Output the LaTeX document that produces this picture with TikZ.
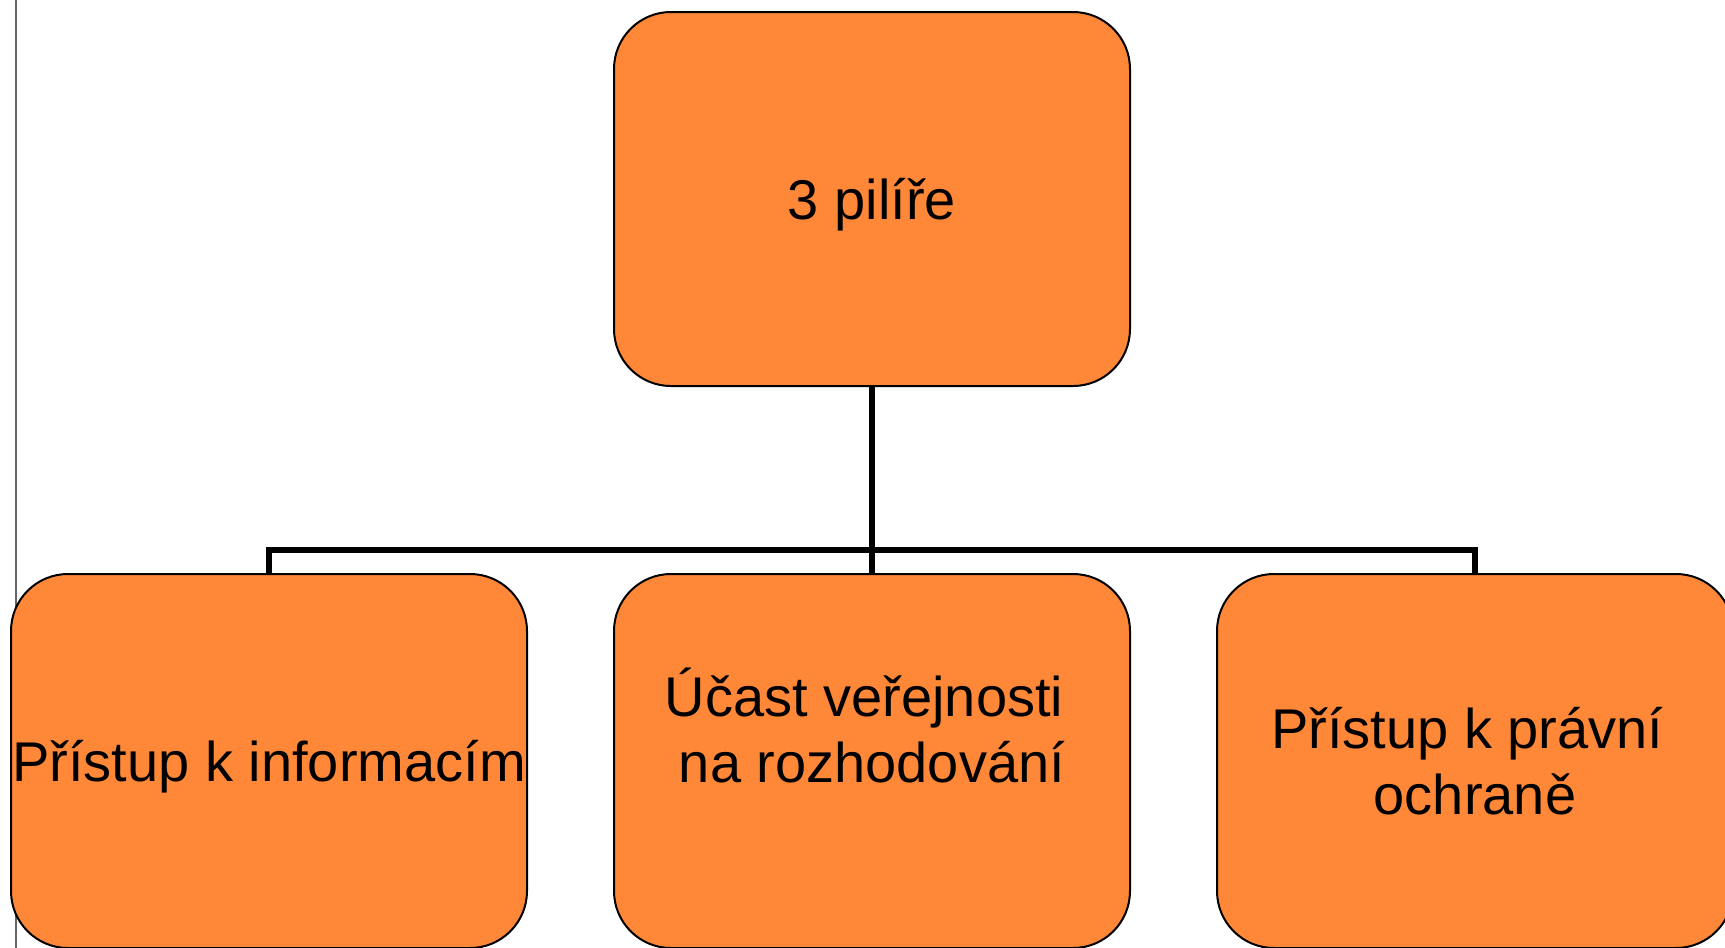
\documentclass[tikz,border=0pt]{standalone}
\usepackage{fontspec}
\setmainfont{Liberation Sans}
\usetikzlibrary{positioning}

\definecolor{pillarorange}{HTML}{FF8838}

\tikzset{
  pillar/.style={draw=black, line width=1pt, fill=pillarorange,
    rounded corners=28.5pt, minimum width=258pt, minimum height=187pt,
    inner sep=0pt, outer sep=0pt, align=center,
    font=\fontsize{28}{33}\selectfont},
  oneline/.style={text depth=0pt},
  link/.style={line width=2.6pt, black},
  edgeline/.style={line width=1pt, black!60}
}

\begin{document}
\begin{tikzpicture}[x=0.5pt, y=-0.5pt]
        \useasboundingbox (0,0) rectangle (1725,948);
        \coordinate (T) at (872,199);
        \coordinate (J) at (872,550);

        \draw[edgeline] (15.5,0) -- (15.5,948);

        \node[pillar, oneline] (top) at (T) {3 pilíře};
        \node[pillar, below=94pt of top] (ucast) {Účast veřejnosti\kern.28em\\ na rozhodování\\ \rule[-3pt]{0pt}{3pt}};
        \node[pillar, oneline, left=43.5pt of ucast] (info) {Přístup k informacím};
        \node[pillar, right=43.5pt of ucast] (ochrana) {Přístup k právní\kern.28em\\ ochraně};

        \draw[link] (top.south) -- (J);
        \draw[link] (info.north) |- (J) -| (ochrana.north);
        \draw[link] (J) -- (ucast.north);
    \end{tikzpicture}
\end{document}
